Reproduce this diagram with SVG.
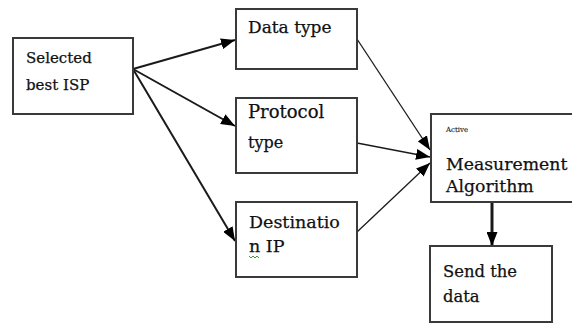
<svg xmlns="http://www.w3.org/2000/svg" width="572" height="324" viewBox="0 0 572 324">
<defs>
<style>
.box{fill:#fff;stroke:#3a3a3a;stroke-width:2}
.t{font-family:"DejaVu Serif","Liberation Serif",serif;fill:#111;stroke:#111;stroke-width:0.25}
.c{stroke:#1a1a1a;fill:none}
</style>
<marker id="ah" viewBox="0 0 14 11" refX="14" refY="5.5" markerWidth="14" markerHeight="11" markerUnits="userSpaceOnUse" orient="auto">
<path d="M0,0 L14,5.5 L0,11 Z" fill="#000"/>
</marker>
</defs>
<rect width="572" height="324" fill="#fff"/>
<g id="connectors">
<line class="c" stroke-width="2" x1="133" y1="69" x2="235" y2="40" marker-end="url(#ah)"/>
<line class="c" stroke-width="2" x1="133" y1="69" x2="235" y2="126" marker-end="url(#ah)"/>
<line class="c" stroke-width="2" x1="133" y1="69" x2="235" y2="241" marker-end="url(#ah)"/>
<line class="c" stroke-width="1.3" x1="357" y1="39" x2="430" y2="150" marker-end="url(#ah)"/>
<line class="c" stroke-width="1.3" x1="357" y1="143" x2="430" y2="157" marker-end="url(#ah)"/>
<line class="c" stroke-width="1.3" x1="357" y1="232" x2="430" y2="163" marker-end="url(#ah)"/>
<line class="c" stroke-width="3" x1="492" y1="202" x2="492" y2="246" marker-end="url(#ah)"/>
</g>
<g id="selected">
<rect class="box" x="13" y="38" width="120" height="76"/>
<text class="t" font-size="15" x="26" y="63">Selected</text>
<text class="t" font-size="15" x="26" y="90">best ISP</text>
</g>
<g id="datatype">
<rect class="box" x="236" y="9" width="121" height="60"/>
<text class="t" font-size="17" x="248" y="33">Data type</text>
</g>
<g id="protocol">
<rect class="box" x="236" y="98" width="121" height="75"/>
<text class="t" font-size="18" x="248" y="118">Protocol</text>
<text class="t" font-size="16" x="248" y="148">type</text>
</g>
<g id="destination">
<rect class="box" x="236" y="202" width="121" height="75"/>
<text class="t" font-size="17.5" x="249" y="228">Destinatio</text>
<text class="t" font-size="17.5" x="249" y="252">n IP</text>
<path d="M249,256 l2,2 l2,-2 l2,2 l2,-2 l2,2" fill="none" stroke="#3a9a3a" stroke-width="1"/>
</g>
<g id="active">
<rect class="box" x="431" y="114" width="145" height="88"/>
<text class="t" font-size="7" x="446" y="132" style="stroke-width:0.1">Active</text>
<text class="t" font-size="17.3" x="446" y="170">Measurement</text>
<text class="t" font-size="17.3" x="446" y="192">Algorithm</text>
</g>
<g id="send">
<rect class="box" x="430" y="246" width="122" height="76"/>
<text class="t" font-size="16.4" x="443" y="277">Send the</text>
<text class="t" font-size="16.4" x="443" y="302">data</text>
</g>
</svg>
